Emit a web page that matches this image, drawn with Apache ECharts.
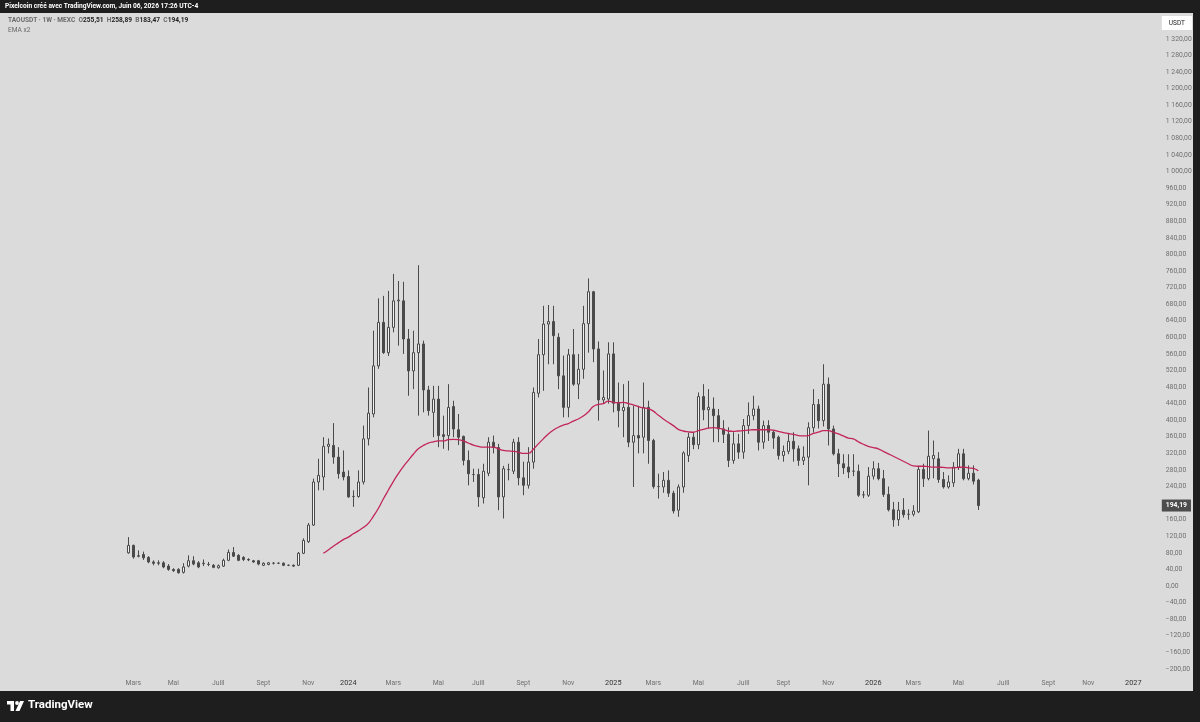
<!DOCTYPE html>
<html><head><meta charset="utf-8">
<script src="https://cdn.jsdelivr.net/npm/echarts@6/dist/echarts.min.js"></script>
<style>html,body{margin:0;padding:0;background:#1e1e1e;}#c{width:1200px;height:722px;}</style>
</head><body><div id="c"></div>
<script>
// ---- data (weekly candles TAOUSDT, MEXC) ----
const firstWeek = '2023-02-27';          // Monday of first candle
const padWeeksBefore = 25;
const padWeeksAfter = 34;
const opens = [
 80,98,73,76,69,58,56,56,48,40,
 40,33,48,61,56,55,52,50,44,48,
 62,81,74,69,64,61,61,50,52,55,
 55,55,50,50,50,79,107,147,251,263,
 337,339,311,275,264,216,216,251,355,415,
 531,636,563,624,688,688,596,519,563,584,
 473,419,451,365,363,433,377,361,303,269,
 269,213,272,347,334,215,281,277,347,261,
 243,299,465,558,632,638,600,507,431,558,
 487,523,633,710,572,449,451,560,443,423,
 431,347,363,359,431,351,240,239,255,224,
 183,239,315,359,341,457,425,427,411,379,
 366,303,343,323,387,411,427,347,387,371,
 359,315,325,349,331,303,311,382,438,399,
 487,379,319,295,287,277,277,220,219,265,
 283,259,221,184,160,183,173,173,179,281,
 259,307,307,257,239,249,287,319,259,272,
 255.51];
const closes = [
 98,70,72,68,58,55,55,46,40,37,
 32,46,61,53,46,54,52,45,49,62,
 81,72,62,64,63,58,53,55,56,55,
 55,50,50,48,79,110,147,251,267,337,
 342,311,271,263,215,216,251,355,417,531,
 636,563,624,688,690,596,519,563,584,473,
 423,451,363,361,431,379,359,303,271,269,
 215,277,347,334,215,283,281,347,261,243,
 299,467,558,632,638,604,507,431,558,487,
 523,633,710,572,449,455,560,441,423,431,
 347,363,357,431,351,240,240,255,224,181,
 239,321,359,341,457,425,431,411,379,366,
 303,343,323,387,411,427,347,387,371,357,
 315,325,349,331,303,311,382,438,399,487,
 379,319,295,285,275,277,219,220,265,283,
 259,221,184,160,183,172,173,181,281,259,
 313,315,257,239,251,287,319,259,272,253,
 194.19];
const highs = [
 118,100,86,83,72,62,62,60,53,43,
 43,55,74,72,60,64,58,53,52,66,
 88,94,77,72,67,63,63,57,58,58,
 57,57,52,52,82,115,152,259,307,359,
 356,393,335,327,279,231,279,387,479,616,
 694,700,712,753,736,734,620,616,774,592,
 483,483,483,411,487,447,415,363,327,283,
 283,295,359,363,343,290,295,355,359,300,
 335,479,596,676,678,676,610,556,572,620,
 560,676,742,712,590,520,588,588,491,487,
 495,435,435,491,447,355,271,275,279,230,
 245,325,370,372,467,487,475,455,427,400,
 383,371,367,403,443,459,435,399,400,375,
 363,339,367,371,339,337,395,475,451,535,
 503,387,331,318,318,318,293,229,287,301,
 297,280,240,203,203,212,185,195,289,295,
 375,351,323,275,267,299,331,331,291,291,
 258.89];
const lows = [
 78,66,69,63,55,50,50,43,37,34,
 30,30,45,50,43,48,48,43,42,46,
 60,70,60,60,60,56,50,48,50,52,
 53,48,48,46,48,77,104,145,231,231,
 320,295,259,255,213,191,213,245,339,407,
 524,560,555,612,580,560,459,475,411,419,
 411,359,335,331,327,359,340,291,243,251,
 191,199,265,320,183,163,255,270,243,219,
 235,283,455,471,535,535,475,407,407,483,
 451,500,563,540,399,440,440,419,383,359,
 335,239,320,320,295,235,211,225,215,175,
 167,225,299,330,330,400,380,347,347,345,
 287,295,307,307,367,400,327,331,350,331,
 305,300,318,300,290,292,243,370,380,385,
 339,315,263,270,260,265,215,212,215,257,
 255,215,180,143,145,165,160,168,176,239,
 255,260,249,235,235,239,280,255,255,245,
 183.47];
const emaStart = 39; // candle index where the EMA line begins
const emaValues = [
 79,87,96,104,112,118,126,133,141,151,
 168,187,210,231,252,271,288,303,318,331,
 339,345,348,350,350,353,354,353,350,345,
 340,337,335,335,335,331,327,326,325,323,
 320,320,330,343,355,367,376,383,388,392,
 398,403,410,420,433,438,440,446,443,442,
 443,440,437,433,430,428,422,412,403,395,
 387,378,374,372,371,375,378,381,382,381,
 378,374,373,374,375,376,377,377,377,377,
 376,373,370,368,366,363,362,363,368,371,
 375,375,371,367,362,357,355,348,342,337,
 334,331,325,319,313,307,301,295,290,289,
 289,288,287,287,286,285,285,286,287,285,
 284,278];
const monthNames = {1: null, 3: 'Mars', 5: 'Mai', 7: 'Juill', 9: 'Sept', 11: 'Nov'};
const yMin = -240, yMax = 1360, yStep = 40;

// ---- build axis / series data ----
function addDays(s, d) {
  const t = new Date(s + 'T00:00:00Z'); t.setUTCDate(t.getUTCDate() + d);
  return t.toISOString().slice(0, 10);
}
const nCandles = opens.length;
const categories = [];
for (let k = -padWeeksBefore; k < nCandles + padWeeksAfter; k++) categories.push(addDays(firstWeek, 7 * k));
const candleDates = opens.map((_, i) => addDays(firstWeek, 7 * i));
const candleData = opens.map((o, i) => [candleDates[i], o, closes[i], lows[i], highs[i]]);
const emaData = emaValues.map((v, j) => [candleDates[emaStart + j], v]);

function fr(v) {
  const s = Math.abs(v).toFixed(2).split('.');
  const ip = s[0].replace(/\B(?=(\d{3})+(?!\d))/g, ' ');
  return (v < 0 ? '\u2212' : '') + ip + ',' + s[1];
}
function isLabelWeek(idx, d) {
  if (idx < padWeeksBefore) return false;
  const m = +d.slice(5, 7), day = +d.slice(8, 10);
  return day <= 7 && (m in monthNames);
}
const last = nCandles - 1;
const FONT = 'Roboto';

const chart = echarts.init(document.getElementById('c'), null, {renderer: 'canvas'});
chart.setOption({
  animation: false,
  backgroundColor: '#1e1e1e',
  title: [
    {text: 'Pixelcoin créé avec TradingView.com, Juin 06, 2026 17:26 UTC-4', left: 5, top: 3, padding: 0,
     textStyle: {color: '#ffffff', fontSize: 6.6, fontWeight: 'bold', fontFamily: FONT}},
    {text: '{g|TAOUSDT · 1W · MEXC}  {g|O}{d|' + fr(opens[last]) + '}  {g|H}{d|' + fr(highs[last]) +
           '}  {g|B}{d|' + fr(lows[last]) + '}  {g|C}{d|' + fr(closes[last]) + '}',
     left: 8, top: 17, padding: 0,
     textStyle: {fontSize: 6.6, fontFamily: FONT, rich: {
       g: {color: '#6a6a6a', fontSize: 6.6, fontFamily: FONT},
       d: {color: '#222222', fontSize: 6.6, fontFamily: FONT}}}},
    {text: 'EMA x2', left: 8, top: 27, padding: 0, textStyle: {color: '#6a6a6a', fontSize: 6.6, fontWeight: 'normal', fontFamily: FONT}},
    {text: 'USDT', right: 8, top: 16, padding: [4, 7, 3, 7], backgroundColor: '#ffffff',
     textStyle: {color: '#222', fontSize: 6.5, fontWeight: 'normal', fontFamily: FONT}},
    {text: 'TradingView', left: 28, top: 699, padding: 0,
     textStyle: {color: '#ffffff', fontSize: 11.5, fontWeight: 'bold', fontFamily: FONT}}
  ],
  graphic: [
    {type: 'group', left: 7, top: 701, children: [
      {type: 'rect', shape: {x: 0, y: 0, width: 7, height: 3.5}, style: {fill: '#fff'}},
      {type: 'rect', shape: {x: 3.5, y: 0, width: 3.5, height: 10}, style: {fill: '#fff'}},
      {type: 'circle', shape: {cx: 10, cy: 2, r: 1.9}, style: {fill: '#fff'}},
      {type: 'polygon', shape: {points: [[13, 0], [17, 0], [12.5, 10], [8.5, 10]]}, style: {fill: '#fff'}}
    ]}
  ],
  grid: [
    {left: 0, top: 13, width: 1193, height: 678, show: true, backgroundColor: '#dbdbdb', borderWidth: 0, outerBoundsMode: 'none', containLabel: false},
    {left: 0.8, top: 22.3, width: 1150, height: 663.2, show: false, outerBoundsMode: 'none', containLabel: false}
  ],
  xAxis: [
    {gridIndex: 0, type: 'value', show: false},
    {gridIndex: 1, type: 'category', data: categories, boundaryGap: true,
     axisLine: {show: false}, axisTick: {show: false}, splitLine: {show: false},
     axisLabel: {
       interval: (idx, val) => isLabelWeek(idx, val),
       formatter: (val) => {
         const m = +val.slice(5, 7);
         return m === 1 ? '{y|' + val.slice(0, 4) + '}' : '{m|' + monthNames[m] + '}';
       },
       margin: -6,
       rich: {
         y: {color: '#333333', fontSize: 7.3, fontFamily: FONT},
         m: {color: '#707070', fontSize: 6.8, fontFamily: FONT}
       }
     }}
  ],
  yAxis: [
    {gridIndex: 0, type: 'value', show: false},
    {gridIndex: 1, type: 'value', position: 'right', min: yMin, max: yMax, interval: yStep,
     axisLine: {show: false}, axisTick: {show: false}, splitLine: {show: false},
     axisLabel: {margin: 15, color: '#707070', fontSize: 6.8, fontFamily: FONT,
       showMinLabel: false, showMaxLabel: false, formatter: fr}}
  ],
  series: [
    {type: 'candlestick', xAxisIndex: 1, yAxisIndex: 1, data: candleData,
     encode: {x: 0, y: [1, 2, 3, 4]}, barWidth: 3,
     itemStyle: {color: '#f2f2f2', color0: '#4a4a4a', borderColor: '#4a4a4a', borderColor0: '#4a4a4a', borderWidth: 1},
     markLine: {silent: true, symbol: 'none', animation: false, z: 10,
       lineStyle: {color: 'rgba(0,0,0,0)', width: 0, type: 'solid'},
       data: [{yAxis: closes[last]}],
       label: {show: true, position: 'end', distance: 11, formatter: fr(closes[last]), color: '#ffffff',
         backgroundColor: '#4d4d4d', padding: [3, 4, 2, 4], fontSize: 6.8, fontWeight: 'bold', fontFamily: FONT}}},
    {type: 'line', xAxisIndex: 1, yAxisIndex: 1, data: emaData, showSymbol: false, smooth: true,
     lineStyle: {color: '#c2255c', width: 1.3}, z: 3}
  ]
});
</script></body></html>
